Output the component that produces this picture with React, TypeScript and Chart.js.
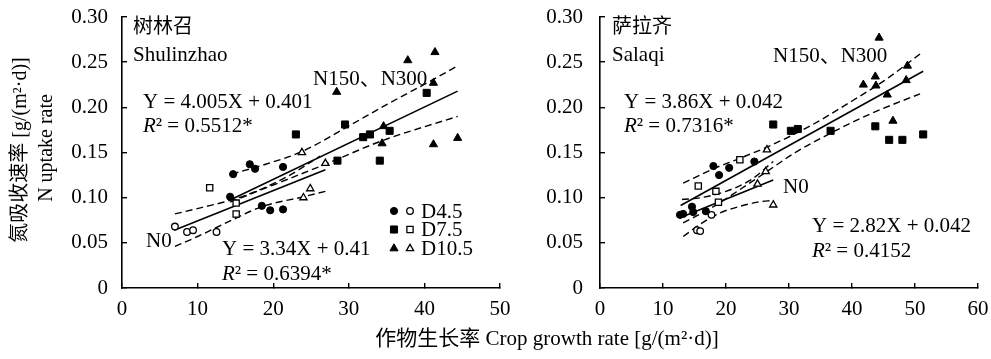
import { useEffect, useRef } from 'react';
import { Chart, registerables } from 'chart.js';
import { drawPoint } from 'chart.js/helpers';

Chart.register(...registerables);

type Pt = { x: number; y: number };

const SERIF = '"Liberation Serif", "Times New Roman", "Noto Sans CJK SC", serif';

// ---------- 树林召 Shulinzhao ----------
const slzD45Filled: Pt[] = [
  { x: 14.7, y: 0.126 }, { x: 16.9, y: 0.137 }, { x: 17.6, y: 0.132 }, { x: 21.3, y: 0.134 },
  { x: 14.3, y: 0.101 }, { x: 18.5, y: 0.091 }, { x: 19.6, y: 0.086 }, { x: 21.3, y: 0.087 },
];
const slzD45Open: Pt[] = [
  { x: 7.0, y: 0.068 }, { x: 8.6, y: 0.062 }, { x: 9.4, y: 0.064 }, { x: 12.5, y: 0.062 },
];
const slzD75Filled: Pt[] = [
  { x: 23.0, y: 0.170 }, { x: 29.5, y: 0.181 }, { x: 31.9, y: 0.167 }, { x: 32.8, y: 0.170 },
  { x: 35.4, y: 0.174 }, { x: 28.5, y: 0.141 }, { x: 34.1, y: 0.141 }, { x: 40.3, y: 0.216 },
];
const slzD75Open: Pt[] = [
  { x: 11.6, y: 0.111 }, { x: 15.1, y: 0.094 }, { x: 15.1, y: 0.082 },
];
const slzD105Filled: Pt[] = [
  { x: 28.4, y: 0.217 }, { x: 37.8, y: 0.252 }, { x: 41.4, y: 0.261 }, { x: 41.2, y: 0.227 },
  { x: 34.6, y: 0.179 }, { x: 34.4, y: 0.160 }, { x: 41.2, y: 0.159 }, { x: 44.4, y: 0.166 },
];
const slzD105Open: Pt[] = [
  { x: 23.8, y: 0.150 }, { x: 26.9, y: 0.138 }, { x: 24.9, y: 0.110 }, { x: 24.0, y: 0.100 },
];
// regression lines: y = slope * x + intercept over the fitted range
const slzFitN150 = { slope: 0.004005, intercept: 0.0401, from: 14.3, to: 44.4 };
const slzFitN0 = { slope: 0.00334, intercept: 0.041, from: 6.9, to: 26.9 };
// 95% confidence bands
const slzN150Upper: Pt[] = [
  { x: 14.5, y: 0.126 }, { x: 19, y: 0.137 }, { x: 23.8, y: 0.151 }, { x: 29.5, y: 0.177 },
  { x: 35, y: 0.203 }, { x: 41, y: 0.230 }, { x: 44.4, y: 0.246 },
];
const slzN150Lower: Pt[] = [
  { x: 14.3, y: 0.095 }, { x: 20, y: 0.114 }, { x: 26.9, y: 0.137 }, { x: 34.4, y: 0.163 }, { x: 44.4, y: 0.190 },
];
const slzN0Upper: Pt[] = [
  { x: 7, y: 0.082 }, { x: 10.5, y: 0.089 }, { x: 14.3, y: 0.097 }, { x: 18, y: 0.108 },
  { x: 22, y: 0.124 }, { x: 26.2, y: 0.146 },
];
const slzN0Lower: Pt[] = [
  { x: 7, y: 0.046 }, { x: 10, y: 0.057 }, { x: 14.5, y: 0.075 }, { x: 18.5, y: 0.090 },
  { x: 24, y: 0.101 }, { x: 26.9, y: 0.107 },
];

// ---------- 萨拉齐 Salaqi ----------
const sqD45Filled: Pt[] = [
  { x: 18.0, y: 0.135 }, { x: 18.9, y: 0.125 }, { x: 20.5, y: 0.133 }, { x: 24.5, y: 0.140 },
  { x: 12.7, y: 0.081 }, { x: 13.2, y: 0.082 }, { x: 14.6, y: 0.090 }, { x: 14.8, y: 0.084 }, { x: 16.8, y: 0.085 },
];
const sqD45Open: Pt[] = [
  { x: 15.4, y: 0.064 }, { x: 15.9, y: 0.063 }, { x: 17.7, y: 0.081 },
];
const sqD75Filled: Pt[] = [
  { x: 27.5, y: 0.181 }, { x: 30.3, y: 0.174 }, { x: 31.4, y: 0.176 }, { x: 36.6, y: 0.174 },
  { x: 43.7, y: 0.179 }, { x: 45.9, y: 0.164 }, { x: 48.0, y: 0.164 }, { x: 51.3, y: 0.170 },
];
const sqD75Open: Pt[] = [
  { x: 15.6, y: 0.113 }, { x: 18.4, y: 0.107 }, { x: 18.8, y: 0.095 }, { x: 22.2, y: 0.142 },
];
const sqD105Filled: Pt[] = [
  { x: 44.3, y: 0.277 }, { x: 41.8, y: 0.225 }, { x: 43.7, y: 0.234 }, { x: 43.8, y: 0.224 },
  { x: 48.8, y: 0.246 }, { x: 48.6, y: 0.230 }, { x: 45.6, y: 0.214 }, { x: 46.5, y: 0.185 },
];
const sqD105Open: Pt[] = [
  { x: 26.5, y: 0.153 }, { x: 26.3, y: 0.129 }, { x: 25.0, y: 0.115 }, { x: 27.5, y: 0.092 },
];
const sqFitN150 = { slope: 0.00386, intercept: 0.042, from: 12.8, to: 51.3 };
const sqFitN0 = { slope: 0.00282, intercept: 0.042, from: 12.7, to: 27.5 };
const sqN150Upper: Pt[] = [
  { x: 13.2, y: 0.116 }, { x: 18, y: 0.132 }, { x: 22, y: 0.143 }, { x: 26.5, y: 0.156 },
  { x: 33, y: 0.178 }, { x: 40, y: 0.207 }, { x: 45, y: 0.229 }, { x: 50.8, y: 0.259 },
];
const sqN150Lower: Pt[] = [
  { x: 13.2, y: 0.072 }, { x: 18, y: 0.090 }, { x: 22, y: 0.108 }, { x: 26.3, y: 0.128 },
  { x: 31, y: 0.150 }, { x: 36.5, y: 0.171 }, { x: 43, y: 0.193 }, { x: 50.8, y: 0.215 },
];
const sqN0Upper: Pt[] = [
  { x: 13, y: 0.098 }, { x: 16, y: 0.100 }, { x: 20, y: 0.107 }, { x: 24, y: 0.120 }, { x: 27.5, y: 0.140 },
];
const sqN0Lower: Pt[] = [
  { x: 13.2, y: 0.057 }, { x: 16, y: 0.071 }, { x: 19, y: 0.083 }, { x: 22, y: 0.090 },
  { x: 25, y: 0.095 }, { x: 27.5, y: 0.097 },
];

// axis tick labels
const yTickValues = [0, 0.05, 0.1, 0.15, 0.2, 0.25, 0.3];
const formatYTick = (v: number) => (Math.abs(v) < 1e-9 ? '0' : v.toFixed(2));

// legend entries
const legendLabels = ['D4.5', 'D7.5', 'D10.5'];
const legendShapes = ['circle', 'rect', 'triangle'];

// ---------- styling ----------
const markerSize: Record<string, { filled: number; open: number }> = {
  circle: { filled: 3.6, open: 3.3 },
  rect: { filled: 5, open: 4.4 },
  triangle: { filled: 4.7, open: 4.2 },
};

function markerDataset(data: Pt[], shape: string, filled: boolean) {
  const r = filled ? markerSize[shape].filled : markerSize[shape].open;
  return {
    data,
    showLine: false,
    pointStyle: shape,
    pointRadius: r,
    pointHoverRadius: r,
    pointBackgroundColor: filled ? '#000' : '#fff',
    pointBorderColor: '#000',
    pointBorderWidth: filled ? 1 : 1.3,
  };
}

function fitDataset(fit: { slope: number; intercept: number; from: number; to: number }) {
  return {
    data: [
      { x: fit.from, y: fit.slope * fit.from + fit.intercept },
      { x: fit.to, y: fit.slope * fit.to + fit.intercept },
    ],
    showLine: true,
    borderColor: '#000',
    borderWidth: 1.6,
    pointRadius: 0,
    pointHoverRadius: 0,
  };
}

function bandDataset(data: Pt[]) {
  return {
    data,
    showLine: true,
    borderColor: '#000',
    borderWidth: 1.4,
    borderDash: [7, 4],
    tension: 0.35,
    cubicInterpolationMode: 'monotone',
    pointRadius: 0,
    pointHoverRadius: 0,
  };
}

type TextPart = { t: string; italic?: boolean };
type TextItem = {
  parts: TextPart[];
  x: number;
  y: number;
  size?: number;
  baseline?: CanvasTextBaseline;
  align?: CanvasTextAlign;
  rotate?: boolean;
};

const r2 = (v: string): TextPart[] => [{ t: 'R', italic: true }, { t: '² = ' + v }];
const plain = (t: string): TextPart[] => [{ t }];

const slzTexts: TextItem[] = [
  { parts: plain('树林召'), x: 133, y: 28, size: 20, baseline: 'middle' },
  { parts: plain('Shulinzhao'), x: 133, y: 61 },
  { parts: plain('N150、N300'), x: 313, y: 85 },
  { parts: plain('Y = 4.005X + 0.401'), x: 143, y: 108 },
  { parts: r2('0.5512*'), x: 143, y: 132 },
  { parts: plain('N0'), x: 146, y: 247 },
  { parts: plain('Y = 3.34X + 0.41'), x: 222, y: 255 },
  { parts: r2('0.6394*'), x: 222, y: 280 },
  { parts: plain('D4.5'), x: 421, y: 218 },
  { parts: plain('D7.5'), x: 421, y: 236 },
  { parts: plain('D10.5'), x: 421, y: 255 },
  { parts: plain('氮吸收速率 [g/(m²·d)]'), x: 21, y: 150, size: 20, baseline: 'middle', align: 'center', rotate: true },
  { parts: plain('N uptake rate'), x: 47, y: 148, size: 20, baseline: 'middle', align: 'center', rotate: true },
];

const sqTexts: TextItem[] = [
  { parts: plain('萨拉齐'), x: 72, y: 28, size: 20, baseline: 'middle' },
  { parts: plain('Salaqi'), x: 72, y: 61 },
  { parts: plain('N150、N300'), x: 233, y: 62 },
  { parts: plain('Y = 3.86X + 0.042'), x: 84, y: 108 },
  { parts: r2('0.7316*'), x: 84, y: 132 },
  { parts: plain('N0'), x: 243, y: 193 },
  { parts: plain('Y = 2.82X + 0.042'), x: 272, y: 232 },
  { parts: r2('0.4152'), x: 272, y: 257 },
];

const slzLegendRows = [211, 229.5, 248.5];

const panelDecor = {
  id: 'panelDecor',
  afterDraw(chart: any, _args: any, opts: any) {
    const ctx: CanvasRenderingContext2D = chart.ctx;
    ctx.save();
    ctx.fillStyle = '#000';
    for (const item of opts.texts as TextItem[]) {
      const size = item.size ?? 21;
      ctx.save();
      ctx.translate(item.x, item.y);
      if (item.rotate) ctx.rotate(-Math.PI / 2);
      ctx.textBaseline = item.baseline ?? 'alphabetic';
      const widths = item.parts.map((p) => {
        ctx.font = `${p.italic ? 'italic ' : ''}${size}px ${SERIF}`;
        return ctx.measureText(p.t).width;
      });
      const total = widths.reduce((a, b) => a + b, 0);
      let cx = item.align === 'center' ? -total / 2 : 0;
      ctx.textAlign = 'left';
      item.parts.forEach((p, i) => {
        ctx.font = `${p.italic ? 'italic ' : ''}${size}px ${SERIF}`;
        ctx.fillText(p.t, cx, 0);
        cx += widths[i];
      });
      ctx.restore();
    }
    if (opts.legend) {
      legendLabels.forEach((_, i) => {
        const shape = legendShapes[i];
        const y = slzLegendRows[i];
        ctx.lineWidth = 1;
        ctx.strokeStyle = '#000';
        ctx.fillStyle = '#000';
        drawPoint(ctx, { pointStyle: shape, radius: markerSize[shape].filled, rotation: 0, borderWidth: 1 } as any, 394, y);
        ctx.lineWidth = 1.3;
        ctx.fillStyle = '#fff';
        drawPoint(ctx, { pointStyle: shape, radius: markerSize[shape].open, rotation: 0, borderWidth: 1.3 } as any, 410, y);
      });
    }
    ctx.restore();
  },
};

type PanelSpec = {
  width: number;
  left: number;
  xMax: number;
  yAxisWidth: number;
  yTickPad: number;
  datasets: any[];
  texts: TextItem[];
  legend: boolean;
};

const axisFont = { family: SERIF, size: 21 };

// keep the plot area fixed: labels may overhang the area edges
const clearScalePadding = (s: any) => {
  s.paddingTop = 0;
  s.paddingBottom = 0;
  s.paddingLeft = 0;
  s.paddingRight = 0;
};

function buildConfig(spec: PanelSpec): any {
  const grid = {
    display: true,
    drawOnChartArea: false,
    drawTicks: true,
    tickLength: -5,
    color: '#000',
    lineWidth: 1.4,
  };
  const border = { display: true, color: '#000', width: 1.6 };
  return {
    type: 'scatter',
    data: { datasets: spec.datasets },
    options: {
      animation: false,
      responsive: false,
      maintainAspectRatio: false,
      events: [],
      layout: { padding: { top: 17, right: spec.width - (spec.yAxisWidth + 378), left: 0, bottom: 0 } },
      plugins: {
        legend: { display: false },
        tooltip: { enabled: false },
        panelDecor: { texts: spec.texts, legend: spec.legend },
      },
      scales: {
        x: {
          type: 'linear',
          min: 0,
          max: spec.xMax,
          ticks: { stepSize: 10, color: '#000', font: axisFont, padding: 14, maxRotation: 0 },
          grid,
          border,
          afterFit: (s: any) => {
            s.height = 71;
            clearScalePadding(s);
          },
        },
        y: {
          type: 'linear',
          min: 0,
          max: 0.3,
          afterBuildTicks: (s: any) => {
            s.ticks = yTickValues.map((v) => ({ value: v }));
          },
          ticks: {
            color: '#000',
            font: axisFont,
            padding: spec.yTickPad,
            callback: (v: any) => formatYTick(Number(v)),
          },
          grid,
          border,
          afterFit: (s: any) => {
            s.width = spec.yAxisWidth;
            clearScalePadding(s);
          },
        },
      },
    },
    plugins: [panelDecor],
  };
}

const slzSpec: PanelSpec = {
  width: 540,
  left: 0,
  xMax: 50,
  yAxisWidth: 122,
  yTickPad: 19,
  legend: true,
  texts: slzTexts,
  datasets: [
    markerDataset(slzD45Filled, 'circle', true),
    markerDataset(slzD45Open, 'circle', false),
    markerDataset(slzD75Filled, 'rect', true),
    markerDataset(slzD75Open, 'rect', false),
    markerDataset(slzD105Filled, 'triangle', true),
    markerDataset(slzD105Open, 'triangle', false),
    fitDataset(slzFitN150),
    fitDataset(slzFitN0),
    bandDataset(slzN150Upper),
    bandDataset(slzN150Lower),
    bandDataset(slzN0Upper),
    bandDataset(slzN0Lower),
  ],
};

const sqSpec: PanelSpec = {
  width: 451,
  left: 540,
  xMax: 60,
  yAxisWidth: 60,
  yTickPad: 22,
  legend: false,
  texts: sqTexts,
  datasets: [
    markerDataset(sqD45Filled, 'circle', true),
    markerDataset(sqD45Open, 'circle', false),
    markerDataset(sqD75Filled, 'rect', true),
    markerDataset(sqD75Open, 'rect', false),
    markerDataset(sqD105Filled, 'triangle', true),
    markerDataset(sqD105Open, 'triangle', false),
    fitDataset(sqFitN150),
    fitDataset(sqFitN0),
    bandDataset(sqN150Upper),
    bandDataset(sqN150Lower),
    bandDataset(sqN0Upper),
    bandDataset(sqN0Lower),
  ],
};

function Panel({ spec }: { spec: PanelSpec }) {
  const ref = useRef<HTMLCanvasElement>(null);
  useEffect(() => {
    if (!ref.current) return;
    const chart = new Chart(ref.current, buildConfig(spec));
    return () => chart.destroy();
  }, [spec]);
  return (
    <canvas
      ref={ref}
      width={spec.width}
      height={359}
      style={{ position: 'absolute', left: spec.left, top: 0, width: spec.width, height: 359 }}
    />
  );
}

export default function App() {
  return (
    <div style={{ position: 'fixed', left: 0, top: 0, width: 991, height: 359, background: '#fff', overflow: 'hidden' }}>
      <Panel spec={slzSpec} />
      <Panel spec={sqSpec} />
      <div
        style={{
          position: 'absolute',
          left: 547,
          top: 326,
          transform: 'translateX(-50%)',
          whiteSpace: 'nowrap',
          fontFamily: SERIF,
          fontSize: 21,
          lineHeight: '24px',
          color: '#000',
        }}
      >
        作物生长率 Crop growth rate [g/(m²·d)]
      </div>
    </div>
  );
}
